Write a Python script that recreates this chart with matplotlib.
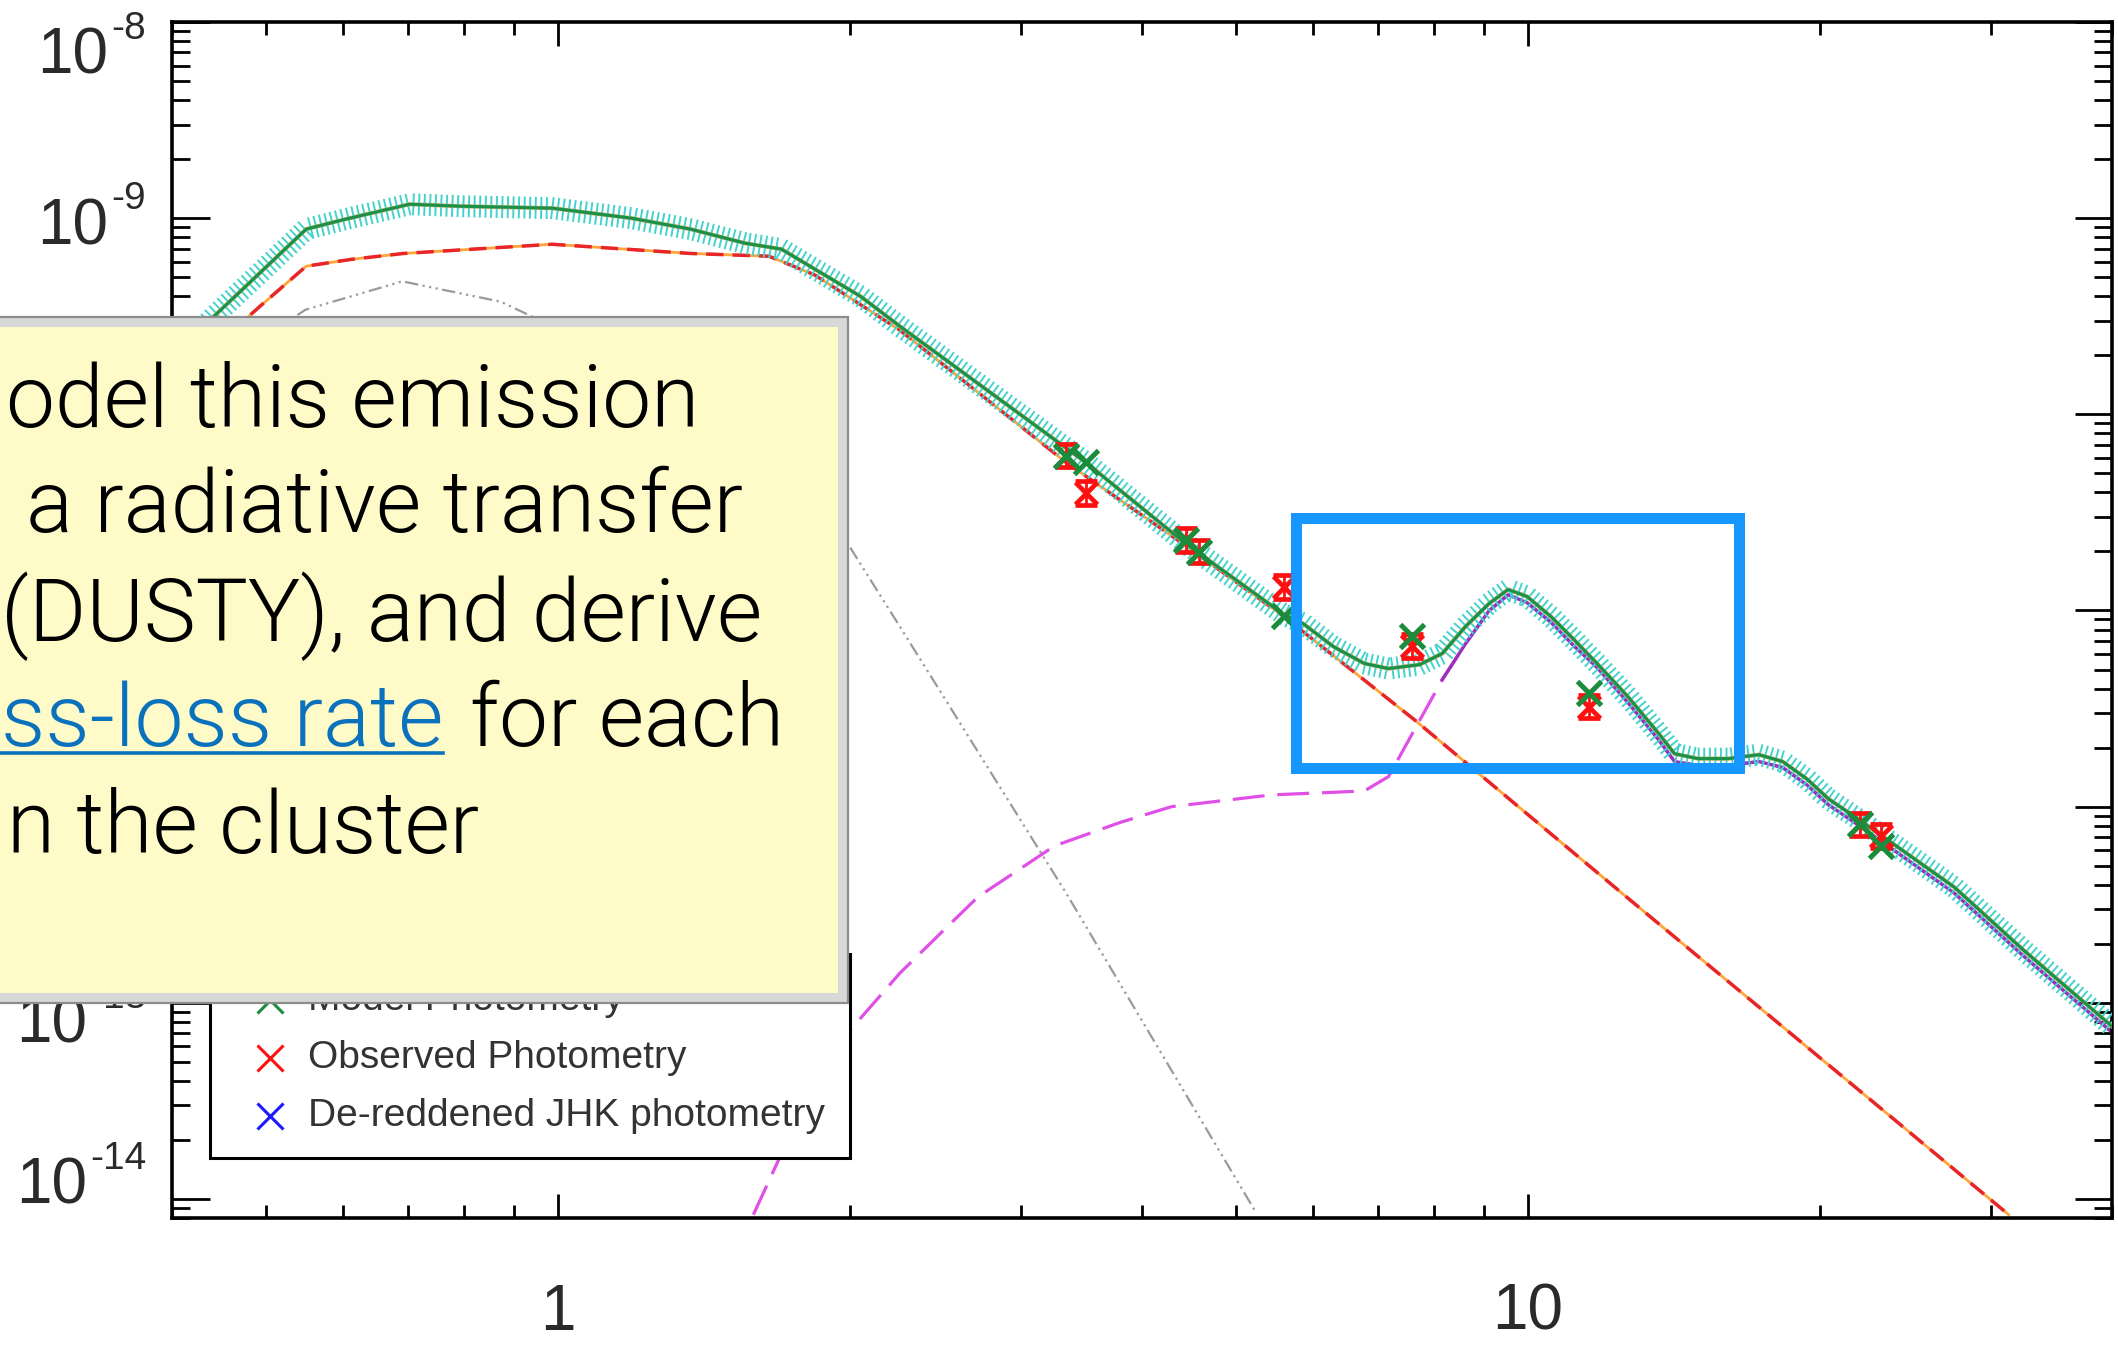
import numpy as np
import matplotlib
matplotlib.use("Agg")
import matplotlib.pyplot as plt
import matplotlib.patheffects as pe
from matplotlib import font_manager
from matplotlib.lines import Line2D
from matplotlib.patches import Rectangle
from matplotlib.ticker import LogLocator, NullFormatter

W, H = 2118, 1346

# SED model components: wavelength in micron, log10 of lambda*F_lambda
total_wave = [0.40, 0.442, 0.550, 0.604, 0.703, 0.793, 0.986, 1.19, 1.37, 1.56,
              1.70, 1.84, 2.05, 2.25, 3.50, 4.44, 5.60, 5.86, 6.30, 6.78,
              7.18, 7.73, 8.16, 8.62, 9.12, 9.54, 9.98, 10.56, 11.15, 11.78,
              12.68, 13.64, 14.16, 14.96, 16.1, 17.3, 18.3, 19.4, 20.4, 22.0,
              24.6, 27.5, 32.4, 40.0]
total_logf = [-9.72, -9.50, -9.056, -9.005, -8.929, -8.939, -8.949, -9.00, -9.056, -9.128,
              -9.158, -9.26, -9.398, -9.55, -10.245, -10.66, -11.02, -11.066, -11.184, -11.27,
              -11.296, -11.276, -11.219, -11.082, -10.964, -10.893, -10.929, -11.031, -11.148, -11.27,
              -11.44, -11.628, -11.73, -11.755, -11.755, -11.735, -11.77, -11.86, -11.96, -12.07,
              -12.24, -12.41, -12.73, -13.12]

star_wave = [0.40, 0.493, 0.550, 0.612, 0.693, 0.986, 1.37, 1.65, 1.84, 2.25,
             3.34, 4.44, 5.60, 7.65, 12.56, 17.0, 31.3]
star_logf = [-9.85, -9.449, -9.245, -9.21, -9.18, -9.133, -9.18, -9.194, -9.29, -9.57,
             -10.245, -10.67, -11.03, -11.56, -12.45, -12.99, -14.08]

grey_wave = [0.50, 0.549, 0.691, 0.873, 1.20, 1.50, 1.97, 2.25, 3.34, 5.23]
grey_logf = [-9.60, -9.467, -9.322, -9.426, -9.75, -10.15, -10.626, -11.08, -12.44, -14.06]

dust_wave = [1.59, 1.82, 2.00, 2.25, 2.51, 2.71, 3.25, 3.80, 4.29, 5.44,
             6.78, 7.18, 8.16, 8.62, 9.12, 9.54, 9.98, 10.56, 11.15, 11.78,
             12.68, 13.64, 14.16, 14.96, 16.1, 17.3, 18.3, 19.4, 20.4, 22.0,
             24.6, 27.5, 32.4, 40.0]
dust_logf = [-14.08, -13.45, -13.14, -12.85, -12.62, -12.46, -12.20, -12.08, -12.00, -11.94,
             -11.92, -11.847, -11.352, -11.17, -11.00, -10.92, -10.96, -11.06, -11.18, -11.29,
             -11.47, -11.66, -11.77, -11.79, -11.79, -11.77, -11.80, -11.89, -11.99, -12.10,
             -12.27, -12.44, -12.76, -13.15]
dust_solid_from = 8.0

# photometry
phot_wave = [3.34, 3.50, 4.44, 4.58, 5.60, 7.59, 11.56, 22.0, 23.1]
obs_logf = [-10.21, -10.40, -10.64, -10.70, -10.88, -11.18, -11.49, -12.09, -12.15]
obs_err_dex = [0.06, 0.06, 0.06, 0.06, 0.06, 0.06, 0.06, 0.06, 0.06]
model_logf = [-10.21, -10.245, -10.64, -10.70, -11.03, -11.13, -11.42, -12.09, -12.20]

legend_labels = ["Model Photometry", "Observed Photometry", "De-reddened JHK photometry"]
legend_colors = ["#1a8c3c", "#ff1010", "#1a1aff"]

# decades that get a label, with the vertical shift (px) of the "10" from its tick
y_label_shift = {-14: 12, -13: -23, -9: -9, -8: -35}
x_labels = {1: "1", 10: "10"}

note_lines = ["odel this emission", "a radiative transfer", "(DUSTY), and derive",
              "ss-loss rate", "for each", "n the cluster"]


def weight_of(entry):
    w = entry.weight
    if isinstance(w, str):
        w = font_manager.weight_dict.get(w, 400)
    return int(w)


def pick_light_family(names):
    for name in names:
        for f in font_manager.fontManager.ttflist:
            if f.name == name and weight_of(f) <= 300:
                return name, 300
    return "Liberation Sans", "normal"


note_family, note_weight = pick_light_family(["Roboto", "Open Sans", "Lato", "Inter"])
label_family = "Liberation Sans"


def fx(px):
    return px / W


def fy(py):
    return 1 - py / H


fig = plt.figure(figsize=(W / 100, H / 100), dpi=100)
fig.patch.set_facecolor("white")
ax = fig.add_axes([fx(172), fy(1218), (2112 - 172) / W, (1218 - 22) / H])
ax.set_xscale("log")
ax.set_yscale("log")
ax.set_xlim(0.4, 40)
ax.set_ylim(8e-15, 1e-8)

for s in ax.spines.values():
    s.set_linewidth(2.6)
ax.xaxis.set_minor_locator(LogLocator(base=10, subs=np.arange(2, 10), numticks=100))
ax.yaxis.set_minor_locator(LogLocator(base=10, subs=np.arange(2, 10), numticks=100))
for axis in (ax.xaxis, ax.yaxis):
    axis.set_major_formatter(NullFormatter())
    axis.set_minor_formatter(NullFormatter())
ax.tick_params(which="both", direction="in", top=True, right=True, width=2.0, color="black")
ax.tick_params(axis="x", which="major", length=17)
ax.tick_params(axis="x", which="minor", length=9.5)
ax.tick_params(axis="y", which="major", length=27)
ax.tick_params(axis="y", which="minor", length=13)

# tick labels, drawn by hand to get the IDL look with small exponents
renderer = fig.canvas.get_renderer()
ytr = ax.get_yaxis_transform()
for e, dy in y_label_shift.items():
    sup = ax.annotate(str(e), xy=(0, 10.0 ** e), xycoords=ytr, xytext=(-26, dy + 28),
                      textcoords="offset pixels", ha="right", va="center",
                      fontsize=28, family=label_family, color="#2a2a2a")
    sup_w = sup.get_window_extent(renderer).width
    ax.annotate("10", xy=(0, 10.0 ** e), xycoords=ytr, xytext=(-29 - sup_w, dy),
                textcoords="offset pixels", ha="right", va="center",
                fontsize=46, family=label_family, color="#2a2a2a")
xtr = ax.get_xaxis_transform()
for v, txt in x_labels.items():
    ax.annotate(txt, xy=(v, 0), xycoords=xtr, xytext=(0, -95),
                textcoords="offset pixels", ha="center", va="center",
                fontsize=46, family=label_family, color="#2a2a2a")

# model curves
tw = np.array(total_wave)
tf = 10.0 ** np.array(total_logf)
sw = np.array(star_wave)
sf = 10.0 ** np.array(star_logf)
gw = np.array(grey_wave)
gf = 10.0 ** np.array(grey_logf)
dw = np.array(dust_wave)
df = 10.0 ** np.array(dust_logf)

ax.plot(gw, gf, color="#9a9a9a", lw=1.6, dashes=(6, 2, 1, 2, 1, 2, 1, 2), zorder=2)
ax.plot(sw, sf, color="#ffa53a", lw=2.0, zorder=2)
ax.plot(sw, sf, color="#e8262a", lw=2.5, dashes=(5, 2.6), zorder=2.1)
ax.plot(dw, df, color="#e050e6", lw=2.3, dashes=(10, 4), zorder=2)
solid = dw >= dust_solid_from
ax.plot(dw[solid], df[solid], color="#9a2fc0", lw=2.4, zorder=2.2)

hatch = [
    pe.TickedStroke(spacing=4.0, angle=90, length=1.8, linewidth=1.4, foreground="#44d2cc"),
    pe.TickedStroke(spacing=4.0, angle=-90, length=1.8, linewidth=1.4, foreground="#44d2cc"),
    pe.Normal(),
]
ax.plot(tw, tf, color="#f5a040", lw=3.0, zorder=3)
ax.plot(tw, tf, color="#1a9048", lw=2.2, path_effects=hatch, zorder=3.1)

# photometry
pw = np.array(phot_wave)
of = 10.0 ** np.array(obs_logf)
oe = np.array(obs_err_dex)
mf = 10.0 ** np.array(model_logf)
ax.errorbar(pw, of, yerr=[of - of / 10.0 ** oe, of * 10.0 ** oe - of], fmt="x",
            color=legend_colors[1], ms=16, mew=3.4, elinewidth=2.0,
            capsize=8, capthick=3.4, zorder=4)
ax.plot(pw, mf, "x", color=legend_colors[0], ms=17, mew=3.6, zorder=5)

# legend box (partly hidden by the note)
fig.add_artist(Rectangle((fx(210), fy(1158)), (850 - 210) / W, (1158 - 954) / H,
                         transform=fig.transFigure, facecolor="white",
                         edgecolor="black", lw=2.2, zorder=2))
for i, (lab, col) in enumerate(zip(legend_labels, legend_colors)):
    yrow = 1000 + 58 * i
    fig.add_artist(Line2D([fx(270)], [fy(yrow)], transform=fig.transFigure,
                          marker="x", ms=19, mew=2.2, color=col, lw=0, zorder=3))
    fig.text(fx(308), fy(yrow), lab, fontsize=28, family=label_family,
             color="#333333", ha="left", va="center", zorder=3)

# yellow note
fig.add_artist(Rectangle((fx(-20), fy(1003)), (848 + 20) / W, (1003 - 317) / H,
                         transform=fig.transFigure, facecolor="#d8d8d8",
                         edgecolor="#8c8c8c", lw=1.6, zorder=5))
fig.add_artist(Rectangle((fx(-20), fy(993)), (838 + 20) / W, (993 - 327) / H,
                         transform=fig.transFigure, facecolor="#fffbc9",
                         edgecolor="none", zorder=6))

note_kw = dict(fontsize=63, family=note_family, fontweight=note_weight,
               va="baseline", zorder=7)
blue = "#0a72bd"
fig.text(fx(699), fy(427), note_lines[0], color="black", ha="right", **note_kw)
fig.text(fx(743), fy(532), note_lines[1], color="black", ha="right", **note_kw)
fig.text(fx(1), fy(641), note_lines[2], color="black", ha="left", **note_kw)
link = fig.text(fx(1), fy(746), note_lines[3], color=blue, ha="left", **note_kw)
link_end = link.get_window_extent(renderer).x1
fig.text(fx(link_end + 27), fy(746), note_lines[4], color="black", ha="left", **note_kw)
fig.text(fx(479), fy(853), note_lines[5], color="black", ha="right", **note_kw)
fig.add_artist(Line2D([0, fx(link_end)], [fy(753), fy(753)], transform=fig.transFigure,
                      color=blue, lw=2.6, zorder=7))

# highlight around the silicate feature
fig.add_artist(Rectangle((fx(1296), fy(768)), (1739 - 1296) / W, (768 - 518) / H,
                         transform=fig.transFigure, fill=False,
                         edgecolor="#1696ff", lw=7.9, zorder=8))

fig.savefig("out.png", dpi=100)
